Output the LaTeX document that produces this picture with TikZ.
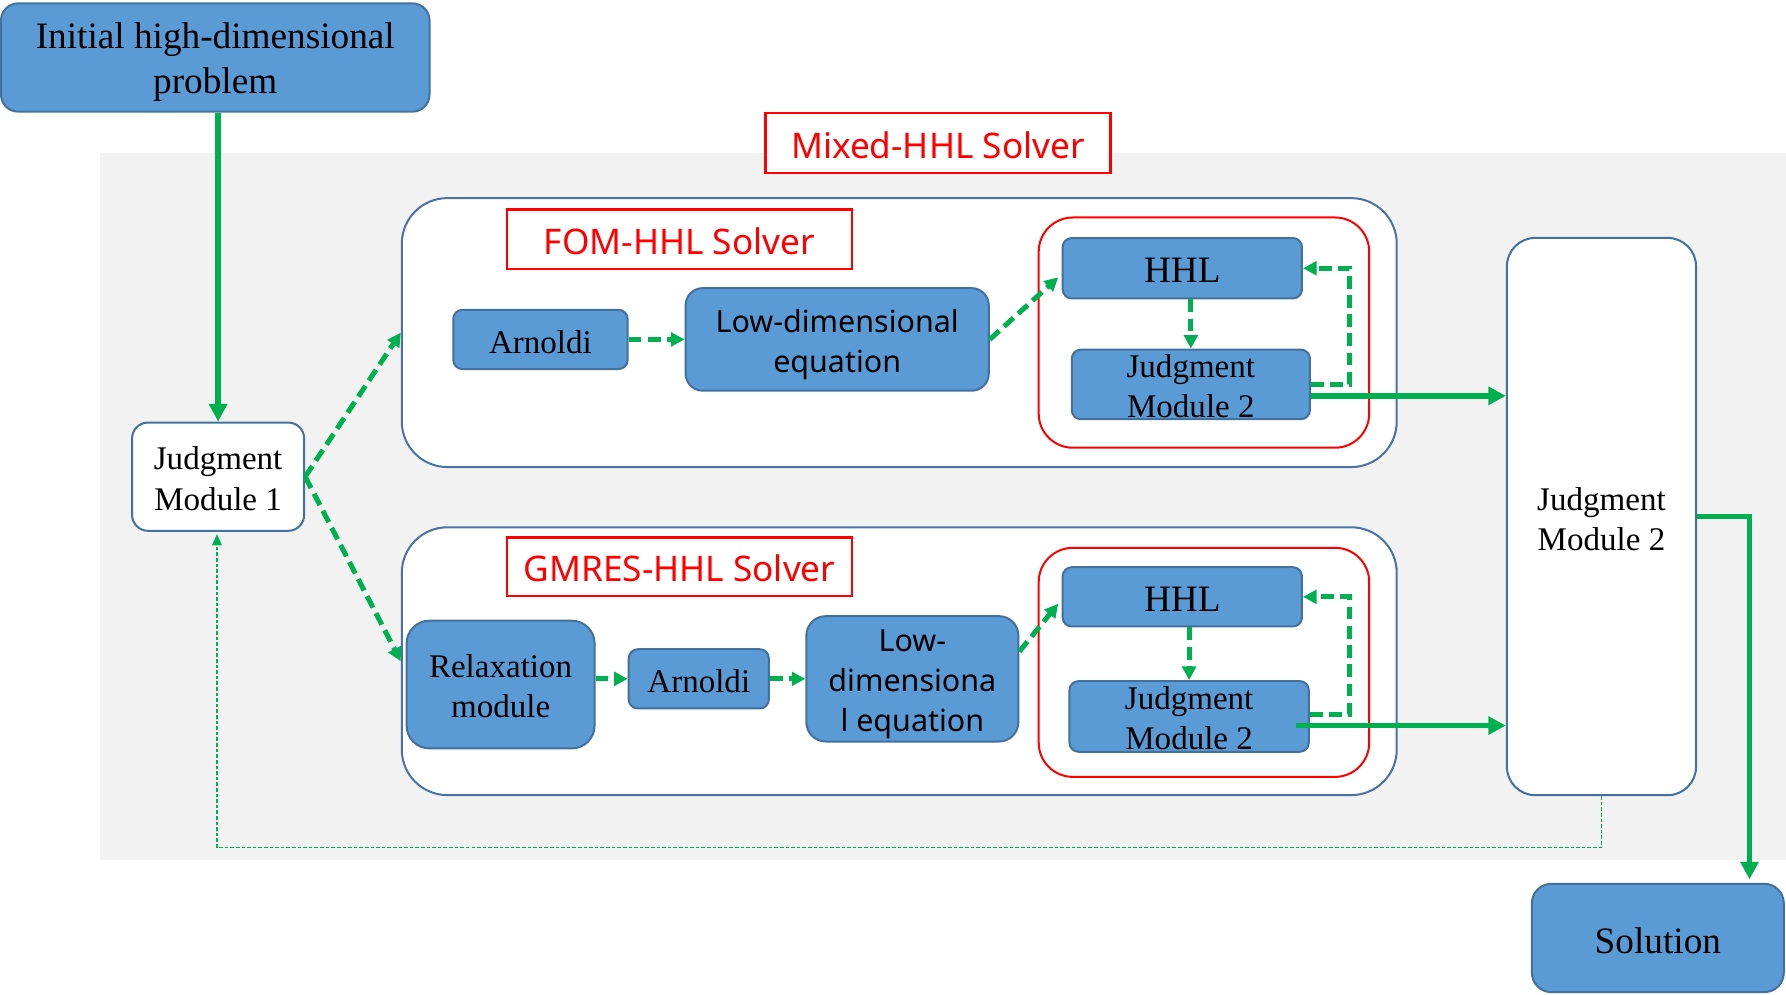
\documentclass[tikz,border=0pt]{standalone}
\usepackage{fontspec}
\setmainfont{Liberation Serif}
\newfontfamily\labelsans{Noto Sans}
\usetikzlibrary{arrows.meta,calc}
\definecolor{boxblue}{HTML}{5B9BD5}
\definecolor{boxedge}{HTML}{41719C}
\definecolor{outeredge}{HTML}{4A72A2}
\definecolor{flowgreen}{HTML}{00B050}
\definecolor{bggray}{HTML}{F2F2F2}
\definecolor{redline}{HTML}{FF0000}
\newcommand{\lowered}[2][1.3pt]{\raisebox{-#1}[\height][\depth]{#2}}
\begin{document}
\begin{tikzpicture}[x=0.01cm,y=-0.01cm,
  bluebox/.style={draw=boxedge, fill=boxblue, line width=0.5pt, rounded corners=0.08cm, inner sep=0pt, align=center, text=black},
  whitebox/.style={draw=boxedge, fill=white, line width=0.5pt, inner sep=0pt, align=center},
  outerbox/.style={draw=outeredge, fill=white, line width=0.5pt, rounded corners=0.4cm, inner sep=0pt},
  redbox/.style={draw=redline, line width=0.5pt, rounded corners=0.3cm, inner sep=0pt},
  redlabel/.style={draw=redline, fill=white, line width=0.6pt, text=redline, inner sep=0pt, font=\labelsans\fontsize{8.8}{10.5}\selectfont},
  serifA/.style={font=\fontsize{9.3}{11.4}\selectfont},
  serifB/.style={font=\fontsize{8.25}{10}\selectfont},
  sansB/.style={font=\labelsans\fontsize{7.6}{10}\selectfont},
  dflow/.style={draw=flowgreen, line width=1.25pt, dash pattern=on 3.2pt off 1.6pt, -{Triangle[length=3.4pt,width=3.4pt]}},
  sflow/.style={draw=flowgreen, line width=1.45pt, -{Triangle[length=4.4pt,width=4.4pt]}},
  fback/.style={draw=flowgreen, line width=0.35pt, dash pattern=on 0.9pt off 0.5pt, -{Triangle[length=2.8pt,width=2.4pt]}}
]
\useasboundingbox (0,0) rectangle (1568,873);
\fill[bggray] (88,134) rectangle (1568,755);

% top-level nodes
\node[bluebox, rounded corners=0.15cm, serifA, minimum width=3.76cm, minimum height=0.95cm] (init) at (189,50.5) {\lowered[1.1pt]{Initial high-dimensional}\\\lowered[1.1pt]{problem}};
\node[redlabel, minimum width=3.03cm, minimum height=0.53cm] (mixed) at (823.5,125.5) {\lowered[0.5pt]{Mixed-HHL Solver}};
\node[whitebox, rounded corners=0.14cm, serifB, minimum width=1.51cm, minimum height=0.95cm] (jm1) at (191.5,418.5) {\lowered[0.5pt]{Judgment}\\\lowered[0.5pt]{Module 1}};
\node[whitebox, rounded corners=0.25cm, serifB, minimum width=1.66cm, minimum height=4.89cm] (bigjm) at (1406,453.5) {\lowered[0.6pt]{Judgment}\\\lowered[0.6pt]{Module 2}};
\node[bluebox, rounded corners=0.17cm, serifA, minimum width=2.21cm, minimum height=0.95cm] (sol) at (1455.5,823.5) {\lowered[0.7pt]{Solution}};

% FOM-HHL solver
\node[outerbox, minimum width=8.73cm, minimum height=2.36cm] (fom) at (789.5,292) {};
\node[redlabel, minimum width=3.03cm, minimum height=0.52cm] (fomlabel) at (596.5,210) {\lowered[0.4pt]{FOM-HHL Solver}};
\node[bluebox, serifB, minimum width=1.53cm, minimum height=0.52cm] (arn1) at (474.5,298) {\lowered[0.6pt]{Arnoldi}};
\node[bluebox, rounded corners=0.15cm, sansB, minimum width=2.66cm, minimum height=0.90cm] (low1) at (735,298) {\lowered{Low-dimensional}\\\lowered{equation}};
\node[redbox, minimum width=2.90cm, minimum height=2.02cm] (red1) at (1057,292) {};
\node[bluebox, serifA, minimum width=2.10cm, minimum height=0.53cm] (hhl1) at (1038,235.5) {\lowered[0.6pt]{HHL}};
\node[bluebox, serifB, minimum width=2.09cm, minimum height=0.61cm] (jm2a) at (1045.5,337.5) {\lowered[0.5pt]{Judgment}\\\lowered[0.5pt]{Module 2}};

% GMRES-HHL solver
\node[outerbox, minimum width=8.73cm, minimum height=2.35cm] (gm) at (789.5,580.5) {};
\node[redlabel, minimum width=3.03cm, minimum height=0.51cm] (gmlabel) at (596.5,497.5) {\lowered[0.4pt]{GMRES-HHL Solver}};
\node[bluebox, rounded corners=0.2cm, serifB, minimum width=1.65cm, minimum height=1.12cm] (relax) at (439.5,601) {\lowered[0.5pt]{Relaxation}\\\lowered[0.5pt]{module}};
\node[bluebox, serifB, minimum width=1.23cm, minimum height=0.52cm] (arn2) at (613.5,596) {\lowered[0.5pt]{Arnoldi}};
\node[bluebox, rounded corners=0.17cm, sansB, minimum width=1.86cm, minimum height=1.10cm] (low2) at (801,596) {\lowered{Low-}\\\lowered{dimensiona}\\\lowered{l equation}};
\node[redbox, minimum width=2.90cm, minimum height=2.01cm] (red2) at (1057,581.5) {};
\node[bluebox, serifA, minimum width=2.10cm, minimum height=0.52cm] (hhl2) at (1038,524) {\lowered[0.6pt]{HHL}};
\node[bluebox, serifB, minimum width=2.10cm, minimum height=0.62cm] (jm2b) at (1044,629) {\lowered[0.5pt]{Judgment}\\\lowered[0.5pt]{Module 2}};

% connectors
\draw[sflow] (init.south -| jm1.north) -- (jm1.north);
\draw[dflow] (jm1.east) -- (fom.west);
\draw[dflow] (jm1.east) -- (gm.west);

\draw[dflow] (arn1.east) -- (low1.west);
\draw[dflow] (low1.east) -- ($(hhl1.west)+(-3,8)$);
\draw[dflow] (hhl1.south -| jm2a.north) -- (jm2a.north);
\draw[dflow] (jm2a.east) -- ++(34,0) |- (hhl1.east);
\draw[sflow] ($(jm2a.east)+(0,10)$) coordinate (s1) -- (s1 -| bigjm.west);

\draw[dflow] (relax.east |- arn2.west) -- (arn2.west);
\draw[dflow] (arn2.east) -- (low2.west);
\draw[dflow] ($(low2.east)+(0,-24)$) -- ($(hhl2.west)+(-3,6)$);
\draw[dflow] (hhl2.south -| jm2b.north) -- (jm2b.north);
\draw[dflow] ($(jm2b.east)+(0,-2)$) -- ++(35,0) |- (hhl2.east);
\draw[sflow] ($(jm2b.east)+(-12,8)$) coordinate (s2) -- (s2 -| bigjm.west);

\draw[sflow] (bigjm.east) -| ($(sol.north east)+(-31,-3)$);
\draw[fback] (bigjm.south) -- ++(0,45) -| ($(jm1.south)+(-1,2)$);
\end{tikzpicture}
\end{document}
